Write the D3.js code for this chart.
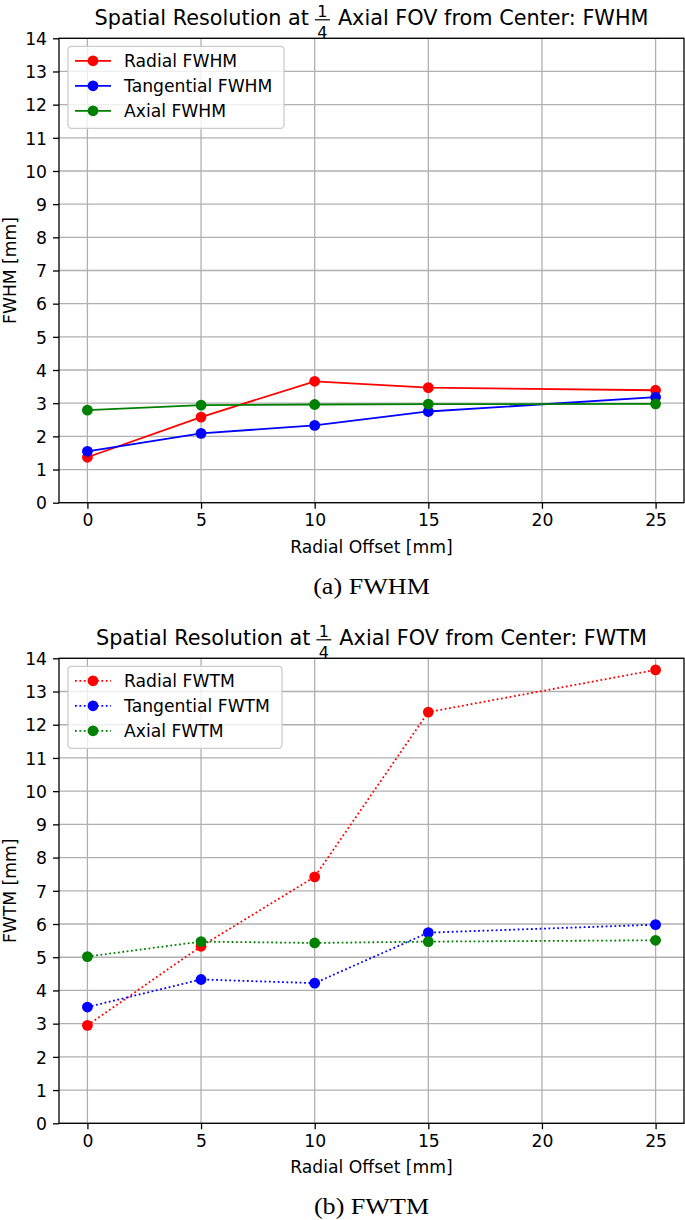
<!DOCTYPE html>
<html>
<head>
<meta charset="utf-8">
<script src="https://cdn.jsdelivr.net/npm/d3@7"></script>
<style>
  body { margin: 0; background: #fff; }
  svg { display: block; }
  text { font-family: "DejaVu Sans", sans-serif; fill: #000; }
</style>
</head>
<body>
<svg id="chart" width="685" height="1220"></svg>
<script>
const xValues = [0, 5, 10, 15, 25];
const xTicks = [0, 5, 10, 15, 20, 25];
const yTicks = [0, 1, 2, 3, 4, 5, 6, 7, 8, 9, 10, 11, 12, 13, 14];

const fwhmRadial = [1.37, 2.58, 3.66, 3.47, 3.39];
const fwhmTangential = [1.55, 2.09, 2.33, 2.75, 3.18];
const fwhmAxial = [2.79, 2.94, 2.96, 2.97, 2.98];

const fwtmRadial = [2.95, 5.33, 7.42, 12.38, 13.65];
const fwtmTangential = [3.50, 4.33, 4.22, 5.74, 5.98];
const fwtmAxial = [5.02, 5.47, 5.43, 5.47, 5.51];

const fwhmLabels = ["Radial FWHM", "Tangential FWHM", "Axial FWHM"];
const fwtmLabels = ["Radial FWTM", "Tangential FWTM", "Axial FWTM"];
const colors = ["#ff0000", "#0000ff", "#008000"];

const svg = d3.select("#chart");
const FS = 17.2;

function drawPanel(cfg) {
  const left = 59, right = 684;
  const top = cfg.top, bottom = cfg.bottom;
  const x = d3.scaleLinear().domain([-1.25, 26.25]).range([left, right]);
  const y = d3.scaleLinear().domain([0, 14]).range([bottom, top]);
  const g = svg.append("g");

  // grid
  g.append("g").selectAll("line").data(xTicks).join("line")
    .attr("x1", d => x(d)).attr("x2", d => x(d)).attr("y1", top).attr("y2", bottom)
    .attr("stroke", "#b0b0b0").attr("stroke-width", 1.3);
  g.append("g").selectAll("line").data(yTicks).join("line")
    .attr("x1", left).attr("x2", right).attr("y1", d => y(d)).attr("y2", d => y(d))
    .attr("stroke", "#b0b0b0").attr("stroke-width", 1.3);

  // axes
  const xAxis = d3.axisBottom(x).tickValues(xTicks).tickSizeInner(6).tickSizeOuter(0).tickPadding(5);
  const gx = g.append("g").attr("transform", `translate(0,${bottom})`).call(xAxis);
  const yAxis = d3.axisLeft(y).tickValues(yTicks).tickSizeInner(6).tickSizeOuter(0).tickPadding(6);
  const gy = g.append("g").attr("transform", `translate(${left},0)`).call(yAxis);
  [gx, gy].forEach(a => {
    a.select(".domain").remove();
    a.selectAll("text").attr("font-family", "DejaVu Sans").attr("font-size", FS).attr("fill", "#000");
    a.selectAll("line").attr("stroke", "#000").attr("stroke-width", 1.3);
  });
  gy.selectAll("text").attr("dy", "0.36em");

  // frame
  g.append("rect").attr("x", left).attr("y", top).attr("width", right - left).attr("height", bottom - top)
    .attr("fill", "none").attr("stroke", "#000").attr("stroke-width", 1.3);

  // series
  const line = d3.line().x((d, i) => x(xValues[i])).y(d => y(d));
  cfg.series.forEach((s, k) => {
    g.append("path").datum(s).attr("d", line).attr("fill", "none")
      .attr("stroke", colors[k]).attr("stroke-width", 1.8)
      .attr("stroke-dasharray", cfg.dotted ? "1.8,2.6" : null);
    g.append("g").selectAll("circle").data(s).join("circle")
      .attr("cx", (d, i) => x(xValues[i])).attr("cy", d => y(d)).attr("r", 5.4)
      .attr("fill", colors[k]);
  });

  // legend
  const lg = g.append("g");
  lg.append("rect").attr("x", 68).attr("y", top + 8).attr("width", cfg.legendW).attr("height", 82)
    .attr("rx", 3.5).attr("fill", "#fff").attr("fill-opacity", 0.8)
    .attr("stroke", "#cccccc").attr("stroke-width", 1.3);
  cfg.labels.forEach((lab, k) => {
    const ly = top + 22.5 + k * 25;
    lg.append("line").attr("x1", 75).attr("x2", 111).attr("y1", ly).attr("y2", ly)
      .attr("stroke", colors[k]).attr("stroke-width", 1.8)
      .attr("stroke-dasharray", cfg.dotted ? "1.8,2.6" : null);
    lg.append("circle").attr("cx", 93).attr("cy", ly).attr("r", 5.4).attr("fill", colors[k]);
    lg.append("text").attr("x", 124).attr("y", ly + 6.2).attr("font-size", FS).text(lab);
  });

  // axis labels
  g.append("text").attr("x", (left + right) / 2).attr("y", bottom + 50)
    .attr("text-anchor", "middle").attr("font-size", FS).text("Radial Offset [mm]");
  g.append("text").attr("transform", `translate(16,${(top + bottom) / 2}) rotate(-90)`)
    .attr("text-anchor", "middle").attr("font-size", FS).text(cfg.ylabel);

  // title with stacked fraction
  const tg = g.append("g");
  const baseY = top - 13;
  const fs = 20.8;
  const t1 = tg.append("text").attr("y", baseY).attr("font-size", fs).text("Spatial Resolution at");
  const w1 = t1.node().getComputedTextLength();
  const gapA = 6, fracW = 15, gapB = 8;
  const t2 = tg.append("text").attr("y", baseY).attr("font-size", fs).text("Axial FOV from Center: " + cfg.suffix);
  const w2 = t2.node().getComputedTextLength();
  const total = w1 + gapA + fracW + gapB + w2;
  const x0 = (left + right) / 2 - total / 2;
  t1.attr("x", x0);
  const fx = x0 + w1 + gapA + fracW / 2;
  tg.append("text").attr("x", fx).attr("y", baseY - 8.3).attr("text-anchor", "middle").attr("font-size", 16).text("1");
  tg.append("line").attr("x1", fx - fracW / 2).attr("x2", fx + fracW / 2).attr("y1", baseY - 5.5).attr("y2", baseY - 5.5)
    .attr("stroke", "#000").attr("stroke-width", 1.2);
  tg.append("text").attr("x", fx).attr("y", baseY + 12.5).attr("text-anchor", "middle").attr("font-size", 16).text("4");
  t2.attr("x", x0 + w1 + gapA + fracW + gapB);

  // caption (wide serif, like Computer Modern)
  g.append("text")
    .attr("transform", `translate(${(left + right) / 2},${bottom + 91}) scale(1.16,1)`)
    .attr("text-anchor", "middle").style("font-family", "'Liberation Serif', serif").attr("font-size", 22.5)
    .text(cfg.caption);
}

drawPanel({
  top: 38.3, bottom: 502.7,
  series: [fwhmRadial, fwhmTangential, fwhmAxial],
  labels: fwhmLabels, dotted: false, legendW: 216,
  ylabel: "FWHM [mm]", suffix: "FWHM", caption: "(a) FWHM"
});
drawPanel({
  top: 658.3, bottom: 1123.3,
  series: [fwtmRadial, fwtmTangential, fwtmAxial],
  labels: fwtmLabels, dotted: true, legendW: 214,
  ylabel: "FWTM [mm]", suffix: "FWTM", caption: "(b) FWTM"
});
</script>
</body>
</html>
